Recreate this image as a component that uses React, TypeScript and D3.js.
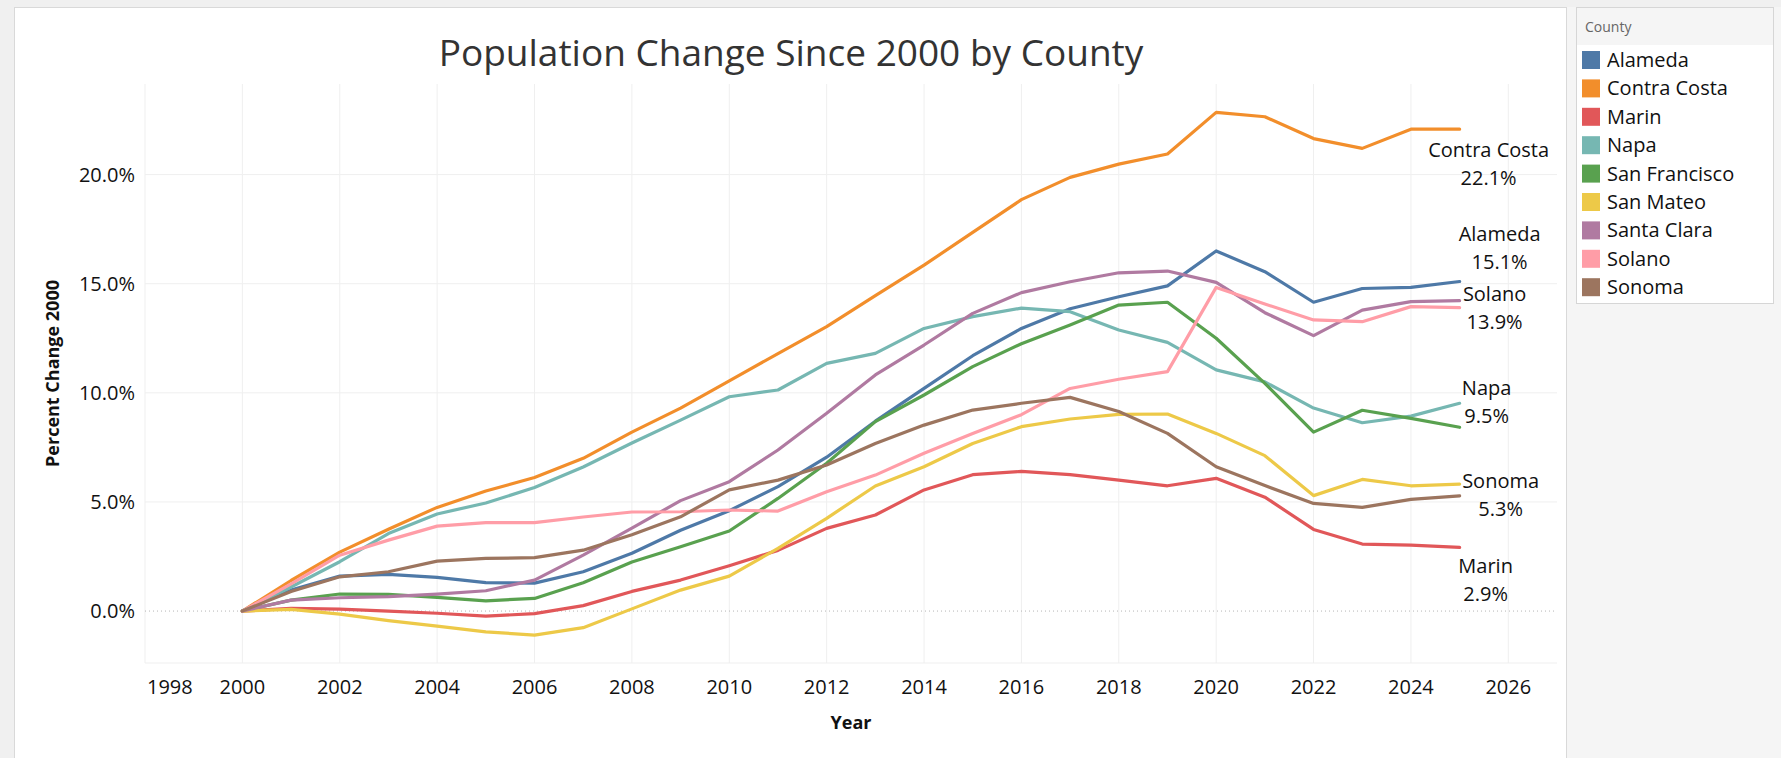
import React, { useEffect, useRef } from "react";
import * as d3 from "d3";

const WIDTH = 1781;
const HEIGHT = 758;
const FONT = "'Open Sans', 'Noto Sans', sans-serif";

const years = d3.range(2000, 2026);
const xTicks = d3.range(1998, 2027, 2);
const yTicks = [0, 5, 10, 15, 20];

const counties = [
  "Alameda",
  "Contra Costa",
  "Marin",
  "Napa",
  "San Francisco",
  "San Mateo",
  "Santa Clara",
  "Solano",
  "Sonoma",
];

const colors = [
  "#4e79a7",
  "#f28e2b",
  "#e15759",
  "#76b7b2",
  "#59a14f",
  "#edc948",
  "#b07aa1",
  "#ff9da7",
  "#9c755f",
];

// percent change vs 2000, one value per year 2000..2025
const alameda = [0, 0.96, 1.6, 1.68, 1.54, 1.3, 1.28, 1.8, 2.65, 3.7, 4.6, 5.7, 7.05, 8.7, 10.2, 11.7, 12.95, 13.85, 14.4, 14.9, 16.5, 15.55, 14.15, 14.78, 14.83, 15.1];
const contraCosta = [0, 1.4, 2.7, 3.75, 4.75, 5.5, 6.12, 7.0, 8.2, 9.3, 10.55, 11.8, 13.03, 14.45, 15.85, 17.35, 18.85, 19.87, 20.48, 20.94, 22.85, 22.65, 21.65, 21.2, 22.08, 22.08];
const marin = [0, 0.12, 0.09, 0.0, -0.1, -0.23, -0.12, 0.25, 0.9, 1.42, 2.08, 2.78, 3.79, 4.4, 5.55, 6.25, 6.4, 6.25, 6.0, 5.74, 6.08, 5.22, 3.74, 3.07, 3.02, 2.92];
const napa = [0, 1.1, 2.26, 3.55, 4.45, 4.95, 5.66, 6.6, 7.7, 8.75, 9.82, 10.13, 11.35, 11.81, 12.95, 13.49, 13.88, 13.72, 12.88, 12.31, 11.05, 10.5, 9.3, 8.63, 8.93, 9.52];
const sanFrancisco = [0, 0.5, 0.78, 0.76, 0.63, 0.47, 0.58, 1.3, 2.25, 2.95, 3.67, 5.16, 6.77, 8.68, 9.9, 11.2, 12.25, 13.11, 14.02, 14.15, 12.5, 10.43, 8.2, 9.2, 8.83, 8.42];
const sanMateo = [0, 0.08, -0.14, -0.44, -0.69, -0.95, -1.1, -0.76, 0.1, 0.96, 1.6, 2.87, 4.25, 5.73, 6.61, 7.68, 8.45, 8.8, 9.01, 9.03, 8.14, 7.12, 5.29, 6.03, 5.74, 5.82];
const santaClara = [0, 0.5, 0.61, 0.66, 0.78, 0.93, 1.42, 2.56, 3.8, 5.06, 5.93, 7.38, 9.06, 10.82, 12.19, 13.64, 14.59, 15.09, 15.5, 15.58, 15.06, 13.67, 12.62, 13.79, 14.18, 14.22];
const solano = [0, 1.25, 2.56, 3.25, 3.89, 4.05, 4.05, 4.31, 4.54, 4.55, 4.63, 4.58, 5.47, 6.23, 7.23, 8.14, 9.0, 10.2, 10.62, 10.97, 14.83, 14.07, 13.34, 13.26, 13.95, 13.9];
const sonoma = [0, 0.9, 1.57, 1.8, 2.29, 2.41, 2.45, 2.79, 3.5, 4.32, 5.55, 6.0, 6.69, 7.68, 8.52, 9.21, 9.52, 9.79, 9.14, 8.14, 6.61, 5.75, 4.93, 4.75, 5.12, 5.28];

const seriesValues = [alameda, contraCosta, marin, napa, sanFrancisco, sanMateo, santaClara, solano, sonoma];

// which lines get an end label
const labelled = ["Contra Costa", "Alameda", "Solano", "Napa", "Sonoma", "Marin"];

// where the end labels sit relative to the last point (tableau moved them around)
const labelOffset: Record<string, { dx: number; dy: number }> = {
  "Contra Costa": { dx: 29, dy: 28 },
  Alameda: { dx: 40, dy: -41 },
  Solano: { dx: 35, dy: -7 },
  Napa: { dx: 27, dy: -8 },
  Sonoma: { dx: 41, dy: -8 },
  Marin: { dx: 26, dy: 26 },
};

const plot = { left: 145, right: 1557, top: 84, bottom: 663 };

export default function App() {
  const ref = useRef<SVGSVGElement>(null);

  useEffect(() => {
    const svg = d3.select(ref.current);
    svg.selectAll("*").remove();

    // background, dashboard panel, legend area
    svg.append("rect").attr("width", WIDTH).attr("height", HEIGHT).attr("fill", "#f0f0f0");
    svg.append("rect")
      .attr("x", 14.5).attr("y", 7.5)
      .attr("width", 1552).attr("height", HEIGHT)
      .attr("fill", "#fff").attr("stroke", "#d9d9d9");
    svg.append("rect")
      .attr("x", 1567).attr("y", 7)
      .attr("width", WIDTH - 1567).attr("height", HEIGHT)
      .attr("fill", "#f5f5f5");

    const x = d3.scaleLinear().domain([1998, 2027]).range([plot.left, plot.right]);
    const y = d3.scaleLinear().domain([-2.38, 24.15]).range([plot.bottom, plot.top]);

    const grid = svg.append("g");
    grid.selectAll("line.vx")
      .data(xTicks)
      .enter()
      .append("line")
      .attr("x1", (d) => x(d)).attr("x2", (d) => x(d))
      .attr("y1", plot.top).attr("y2", plot.bottom)
      .attr("stroke", "#efefef").attr("stroke-width", 1);
    grid.selectAll("line.hy")
      .data(yTicks.filter((d) => d !== 0))
      .enter()
      .append("line")
      .attr("x1", plot.left).attr("x2", plot.right)
      .attr("y1", (d) => y(d)).attr("y2", (d) => y(d))
      .attr("stroke", "#efefef").attr("stroke-width", 1);
    grid.append("line")
      .attr("x1", plot.left).attr("x2", plot.right)
      .attr("y1", plot.bottom).attr("y2", plot.bottom)
      .attr("stroke", "#efefef");
    grid.append("line")
      .attr("x1", plot.left).attr("x2", plot.right)
      .attr("y1", y(0)).attr("y2", y(0))
      .attr("stroke", "#b5b5b5").attr("stroke-width", 1)
      .attr("stroke-dasharray", "1,3");

    // axes
    const axisText = svg.append("g").attr("font-family", FONT).attr("font-size", 20).attr("fill", "#111");
    axisText.selectAll("text.xt")
      .data(xTicks)
      .enter()
      .append("text")
      .attr("x", (d, i) => (i === 0 ? plot.left + 2 : x(d)))
      .attr("y", 694)
      .attr("text-anchor", (d, i) => (i === 0 ? "start" : "middle"))
      .text((d) => d);
    axisText.selectAll("text.yt")
      .data(yTicks)
      .enter()
      .append("text")
      .attr("x", 135)
      .attr("y", (d) => y(d) + 7)
      .attr("text-anchor", "end")
      .text((d) => d3.format(".1f")(d) + "%");

    svg.append("text")
      .attr("x", (plot.left + plot.right) / 2).attr("y", 729)
      .attr("text-anchor", "middle")
      .attr("font-family", FONT).attr("font-size", 18).attr("font-weight", 700).attr("fill", "#111")
      .text("Year");
    svg.append("text")
      .attr("transform", `translate(59,${(plot.top + plot.bottom) / 2}) rotate(-90)`)
      .attr("text-anchor", "middle")
      .attr("font-family", FONT).attr("font-size", 18).attr("font-weight", 700).attr("fill", "#111")
      .text("Percent Change 2000");

    // title
    svg.append("text")
      .attr("x", 791).attr("y", 66)
      .attr("text-anchor", "middle")
      .attr("font-family", FONT).attr("font-size", 37).attr("fill", "#333")
      .text("Population Change Since 2000 by County");

    // lines
    const line = d3.line<number>()
      .x((d, i) => x(years[i]))
      .y((d) => y(d));

    svg.append("g")
      .selectAll("path")
      .data(seriesValues)
      .enter()
      .append("path")
      .attr("d", (d) => line(d))
      .attr("fill", "none")
      .attr("stroke", (d, i) => colors[i])
      .attr("stroke-width", 3.2)
      .attr("stroke-linejoin", "round")
      .attr("stroke-linecap", "round");

    // end labels
    const lastYear = years[years.length - 1];
    const labels = svg.append("g").attr("font-family", FONT).attr("font-size", 20).attr("fill", "#111").attr("text-anchor", "middle");
    for (const name of labelled) {
      const vals = seriesValues[counties.indexOf(name)];
      const last = vals[vals.length - 1];
      const off = labelOffset[name];
      const cx = x(lastYear) + off.dx;
      const cy = y(last) + off.dy;
      const t = labels.append("text").attr("x", cx).attr("y", cy);
      t.append("tspan").attr("x", cx).attr("y", cy).text(name);
      t.append("tspan").attr("x", cx).attr("y", cy + 28).text(d3.format(".1f")(last) + "%");
    }

    // legend
    const legend = svg.append("g");
    legend.append("rect")
      .attr("x", 1576.5).attr("y", 7.5)
      .attr("width", 197).attr("height", 296)
      .attr("fill", "#fff").attr("stroke", "#d6d6d6");
    legend.append("rect")
      .attr("x", 1577).attr("y", 8)
      .attr("width", 196).attr("height", 37)
      .attr("fill", "#f5f5f5");
    legend.append("text")
      .attr("x", 1585).attr("y", 32)
      .attr("font-family", FONT).attr("font-size", 14).attr("fill", "#666")
      .text("County");
    const item = legend.selectAll("g.item")
      .data(counties)
      .enter()
      .append("g")
      .attr("transform", (d, i) => `translate(1582,${60 + i * 28.4})`);
    item.append("rect")
      .attr("x", 0).attr("y", -9)
      .attr("width", 18).attr("height", 18)
      .attr("fill", (d, i) => colors[i]);
    item.append("text")
      .attr("x", 25).attr("y", 7)
      .attr("font-family", FONT).attr("font-size", 20).attr("fill", "#111")
      .text((d) => d);
  }, []);

  return (
    <svg
      ref={ref}
      width={WIDTH}
      height={HEIGHT}
      style={{ position: "fixed", left: 0, top: 0, display: "block" }}
    />
  );
}
